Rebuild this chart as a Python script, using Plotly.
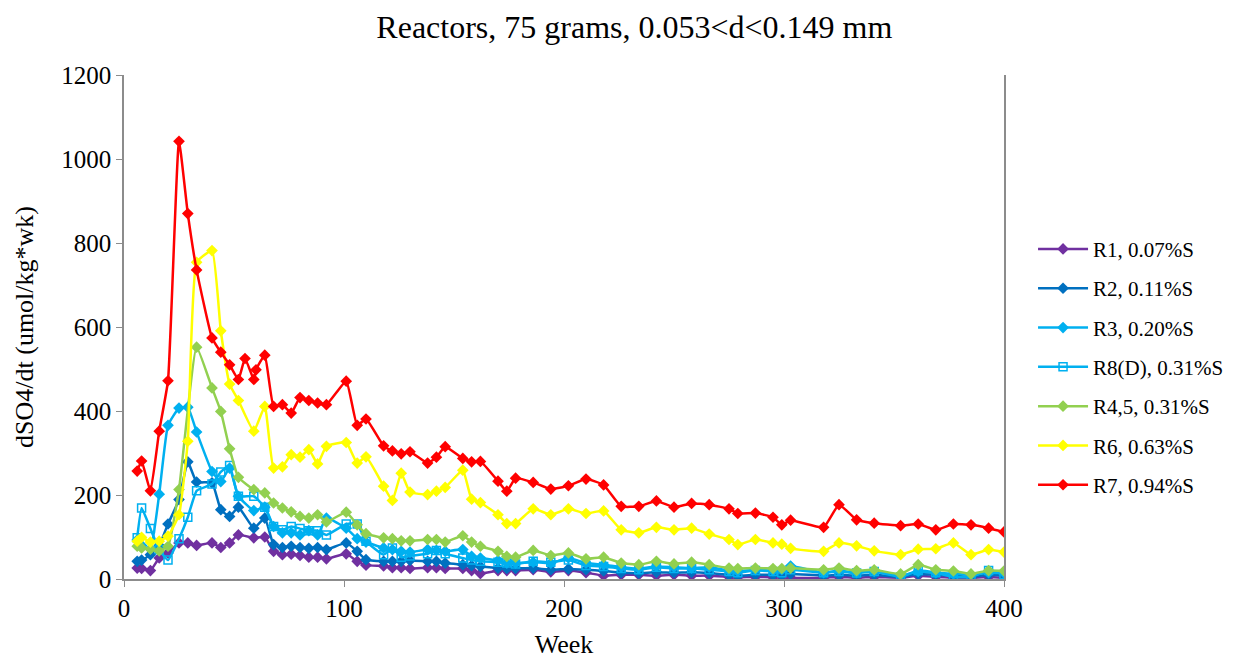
import plotly.graph_objects as go

weeks = [6, 8, 12, 16, 20, 25, 29, 33, 40, 44, 48, 52, 55, 59, 60, 64, 68, 72, 76, 80,
         84, 88, 92, 101, 106, 110, 118, 122, 126, 130, 138, 142, 146, 154, 158, 162, 170, 174, 178, 186,
         194, 202, 210, 218, 226, 234, 242, 250, 258, 266, 275, 279, 287, 295, 299, 303, 318, 325, 333, 341,
         353, 361, 369, 377, 385, 393, 400]

r1 = [26, 25, 20, 50, 62, 86, 86, 80, 86, 75, 86, 105, None, 98, None, 100, 66, 58, 59, 56,
      52, 52, 48, 60, 42, 33, 31, 27, 27, 25, 27, 27, 25, 25, 20, 13, 20, 20, 20, 22,
      17, 20, 15, 8, 10, 10, 8, 10, 8, 8, 5, 4, 5, 4, 5, 3, 3, 5, 3, 5,
      3, 8, 5, 3, 3, 5, 3]
r2 = [42, 45, 58, 80, 131, 189, 279, 231, 229, 165, 149, 171, None, 121, None, 145, 82, 75, 78, 75,
      73, 75, 70, 86, 66, 46, 42, 42, 42, 44, 42, 42, 38, 34, 32, 30, 26, 25, 25, 26,
      22, 24, 22, 19, 15, 14, 16, 15, 16, 14, 10, 8, 10, 10, 9, 12, 8, 10, 8, 10,
      5, 12, 10, 8, 5, 10, 8]
r3 = [93, 80, 72, 202, 366, 407, 409, 350, 256, 232, 264, 197, None, 163, None, 171, 125, 110, 110, 105,
      115, 105, 145, 121, 96, 88, 74, 70, 66, 64, 70, 68, 66, 70, 54, 50, 44, 38, 38, 40,
      38, 50, 38, 34, 28, 25, 30, 28, 26, 28, 20, 18, 22, 20, 22, 31, 15, 20, 15, 18,
      8, 18, 15, 12, 10, 15, 14]
r8 = [98, 169, 120, 70, 45, 96, 147, 210, 226, 255, 270, 197, None, 197, None, 171, 125, 117, 125, 120,
      115, 115, 105, 131, 131, 90, 58, 74, 52, 55, 60, 68, 60, 50, 45, 42, 40, 38, 36, 42,
      40, 45, 32, 30, 25, 22, 28, 25, 25, 22, 18, 15, 20, 18, 15, 22, 15, 18, 14, 18,
      5, 20, 15, 5, 5, 20, 10]
r45 = [78, 74, 71, 67, 78, 213, None, 552, 455, 399, 310, 242, None, 213, None, 205, 181, 169, 160, 149,
       145, 153, 136, 159, 129, 108, 98, 96, 91, 91, 94, 94, 88, 103, 88, 78, 66, 54, 52, 68,
       56, 62, 48, 52, 38, 34, 42, 36, 40, 34, 26, 25, 26, 25, 25, 26, 22, 26, 20, 22,
       12, 34, 22, 19, 12, 20, 19]
r6 = [90, 99, 88, 90, 102, 153, 328, 754, 782, 591, 464, 425, None, 352, None, 411, 264, 267, 296, 290,
      308, 274, 316, 325, 276, 291, 221, 187, 252, 207, 201, 209, 218, 259, 190, 182, 153, 132, 132, 167,
      153, 167, 156, 162, 117, 110, 123, 117, 121, 107, 94, 82, 94, 86, 83, 73, 66, 86, 79, 67,
      58, 71, 72, 86, 58, 70, 64]
r7 = [257, 281, 210, 352, 472, 1042, 870, 736, 574, 540, 510, 475, 525, 475, 498, 533, 411, 415, 395, 432,
      425, 419, 415, 471, 366, 381, 317, 305, 298, 303, 276, 290, 315, 287, 279, 280, 233, 209, 240, 230,
      214, 222, 238, 224, 173, 173, 186, 171, 180, 177, 167, 156, 157, 147, 129, 140, 123, 177, 141, 133,
      127, 131, 117, 131, 129, 121, 112]

series_names = ["R1, 0.07%S", "R2, 0.11%S", "R3, 0.20%S", "R8(D), 0.31%S",
                "R4,5, 0.31%S", "R6, 0.63%S", "R7, 0.94%S"]
series_values = [r1, r2, r3, r8, r45, r6, r7]
colors = ["#7030A0", "#0070C0", "#00B0F0", "#00B0F0", "#92D050", "#FFFF00", "#FF0000"]
symbols = ["diamond", "diamond", "diamond", "square-open", "diamond", "diamond", "diamond"]

FONT = "Liberation Serif, Times New Roman, serif"

fig = go.Figure()
for name, vals, col, sym in zip(series_names, series_values, colors, symbols):
    fig.add_trace(go.Scatter(
        x=weeks, y=vals, name=name, mode="lines+markers",
        connectgaps=True, legendgroup=name,
        line=dict(color=col, width=2.5, shape="spline", smoothing=0.4),
        marker=dict(color=col, symbol=sym, size=9 if sym == "diamond" else 8,
                    line=dict(color=col, width=1.5 if sym != "diamond" else 0)),
    ))

fig.update_layout(
    width=1233, height=658,
    margin=dict(l=116, r=230, t=67, b=87),
    paper_bgcolor="white", plot_bgcolor="white",
    font=dict(family=FONT, color="black", size=25),
    title=dict(text="Reactors, 75 grams, 0.053&lt;d&lt;0.149 mm", x=0.508, xref="container",
               xanchor="center", y=1 - 19 / 658, yref="container", yanchor="middle",
               font=dict(family=FONT, size=32, color="black")),
    showlegend=True,
    legend=dict(x=1.033, xanchor="left", y=0.42, yanchor="middle",
                font=dict(family=FONT, size=21, color="black"),
                tracegroupgap=9, itemwidth=50, bgcolor="rgba(0,0,0,0)"),
)
fig.update_xaxes(range=[0, 400], tickvals=[0, 100, 200, 300, 400], showgrid=False, zeroline=False,
                 showline=True, linecolor="#8C8C8C", linewidth=1.5, ticks="outside",
                 ticklen=6, tickcolor="#8C8C8C", tickfont=dict(size=25),
                 title=dict(text="Week", font=dict(size=26), standoff=14))
fig.update_yaxes(range=[0, 1200], tickvals=[0, 200, 400, 600, 800, 1000, 1200], showgrid=False,
                 zeroline=False, showline=True, mirror=True, linecolor="#8C8C8C", linewidth=1.5,
                 ticks="outside", ticklen=6, tickcolor="#8C8C8C", tickfont=dict(size=25),
                 title=dict(text="dSO4/dt (umol/kg*wk)", font=dict(size=26), standoff=20))

fig.write_html("out.html")
